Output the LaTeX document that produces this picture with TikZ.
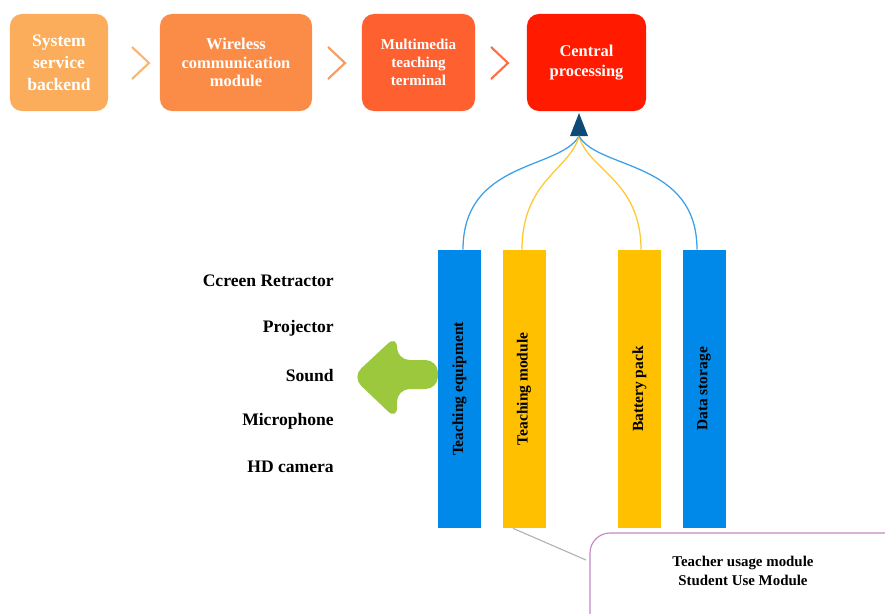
\documentclass[tikz,border=0pt]{standalone}
\usepackage{fontspec}
\setmainfont{Liberation Serif}
\usetikzlibrary{positioning}
\definecolor{stageA}{HTML}{FBAD5C}
\definecolor{stageB}{HTML}{FB8C48}
\definecolor{stageC}{HTML}{FF6030}
\definecolor{stageD}{HTML}{FF1A00}
\definecolor{chevA}{HTML}{FBB572}
\definecolor{chevB}{HTML}{FA9A5E}
\definecolor{chevC}{HTML}{FF6E40}
\definecolor{barblue}{HTML}{0089E8}
\definecolor{baryellow}{HTML}{FFC000}
\definecolor{linkblue}{HTML}{3AA0E8}
\definecolor{linkyellow}{HTML}{FFC830}
\definecolor{hubblue}{HTML}{0D4A78}
\definecolor{leafgreen}{HTML}{9BC83C}
\definecolor{calloutpink}{HTML}{C586C0}
\begin{document}
\begin{tikzpicture}[x=0.025cm, y=-0.025cm,
    stage/.style={rounded corners=0.3cm, minimum height=2.425cm, text=white, align=center, inner sep=2pt},
    chev/.style={line width=1.5pt},
    bar/.style={minimum width=1.075cm, minimum height=6.95cm, inner sep=0pt},
    bartext/.style={rotate=90, font=\bfseries\fontsize{11}{12}\selectfont},
    device/.style={anchor=east, inner sep=0pt, font=\bfseries\fontsize{12.5}{14}\selectfont},
    link/.style={line width=0.9pt}]
    \useasboundingbox (0, 0) rectangle (885, 613);
    \clip (0, 0) rectangle (885, 613);

    % ---stages
    \node[stage, fill=stageA, minimum width=2.45cm, font=\bfseries\fontsize{12.5}{15.5}\selectfont] (backend) at (59, 62.5) {System\\service\\backend};
    \node[stage, fill=stageB, minimum width=3.8cm, font=\bfseries\fontsize{11.7}{13}\selectfont] (wireless) at (236, 62.5) {Wireless\\communication\\module};
    \node[stage, fill=stageC, minimum width=2.825cm, font=\bfseries\fontsize{10.7}{13}\selectfont] (terminal) at (418.5, 62.5) {Multimedia\\teaching\\terminal};
    \node[stage, fill=stageD, minimum width=2.975cm, font=\bfseries\fontsize{11.7}{14}\selectfont] (central) at (586.5, 62.5) {Central\\processing};

    \draw[chev, chevA] (132, 47) -- (149, 63) -- (132, 79);
    \draw[chev, chevB] (328, 47) -- (345, 63) -- (328, 79);
    \draw[chev, chevC] (491, 47) -- (508, 63) -- (491, 79);

    % ---hub
    \fill[hubblue] (570, 136) -- (579, 113) -- (588, 136) -- cycle;
    \coordinate (hub) at (579, 136);

    % ---bars
    \node[bar, fill=barblue] (equip) at (459.5, 389) {};
    \node[bar, fill=baryellow] (teachmod) at (524, 389) {};
    \node[bar, fill=baryellow] (battery) at (639.5, 389) {};
    \node[bar, fill=barblue] (storage) at (704, 389) {};
    \node[bartext] at (equip) {Teaching equipment};
    \node[bartext] at (teachmod) {Teaching module};
    \node[bartext] at (battery) {Battery pack};
    \node[bartext] at (storage) {Data storage};

    \draw[link, linkblue] (hub) .. controls (560, 170) and (463, 160) .. (equip.north -| 463, 0);
    \draw[link, linkyellow] (hub) .. controls (570, 170) and (522, 180) .. (teachmod.north -| 522, 0);
    \draw[link, linkyellow] (hub) .. controls (588, 170) and (641, 180) .. (battery.north -| 641, 0);
    \draw[link, linkblue] (hub) .. controls (598, 170) and (697, 160) .. (storage.north -| 697, 0);

    % ---devices
    \node[device] (screen) at (334, 281) {Ccreen Retractor};
    \node[device] (projector) at (334, 328) {Projector};
    \node[device] (sound) at (334, 375) {Sound};
    \node[device] (micro) at (334, 421) {Microphone};
    \node[device] (camera) at (334, 467) {HD camera};

    \fill[leafgreen, rounded corners=9pt] (438, 360) -- (397, 360) -- (397, 335) -- (352, 377)
        -- (397, 420) -- (397, 389) -- (438, 389) -- cycle;

    % ---callout
    \draw[calloutpink, line width=0.8pt, rounded corners=0.5cm] (590, 533) rectangle (930, 660);
    \node[font=\bfseries\fontsize{10.6}{13}\selectfont, align=center] (usage) at (743, 571) {Teacher usage module\\Student Use Module};
    \coordinate (calloutedge) at (586, 560);
    \draw[gray!60, line width=0.8pt] (teachmod.south -| 513, 0) -- (calloutedge);
\end{tikzpicture}
\end{document}
